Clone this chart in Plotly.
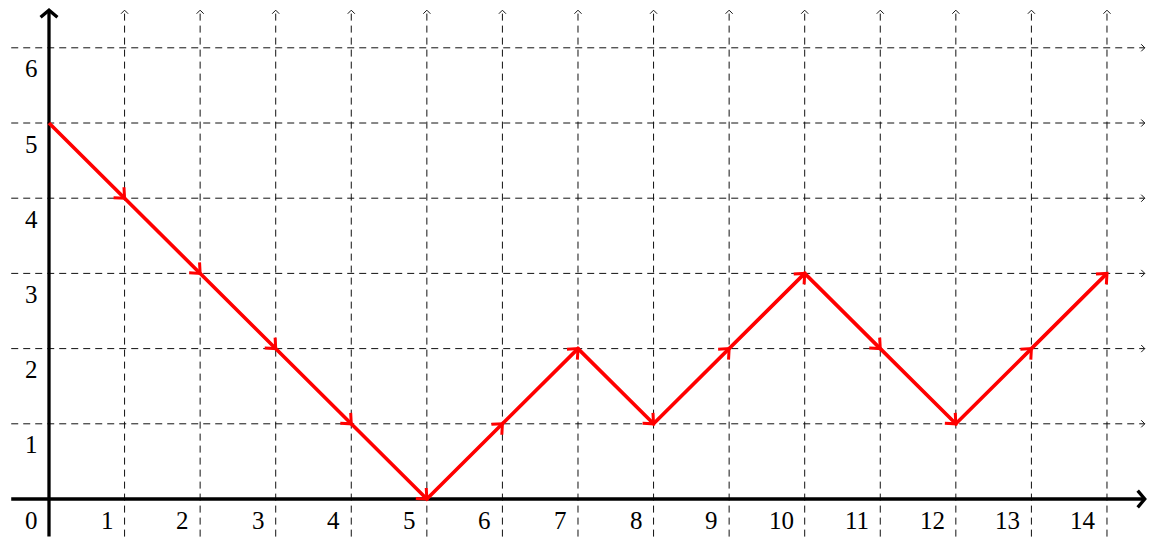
import math
import plotly.graph_objects as go

# ---- data ----
steps = list(range(15))
path_y = [5, 4, 3, 2, 1, 0, 1, 2, 1, 2, 3, 2, 1, 2, 3]
x_tick_vals = list(range(0, 15))
y_tick_vals = list(range(1, 7))
x_grid = list(range(1, 15))
y_grid = list(range(1, 7))

# ---- frame ----
W, H = 1162, 540
UX, UY = 75.57, 75.2
X0 = -41.0 / UX
X1 = X0 + W / UX
Y1 = 491.0 / UY
Y0 = Y1 - H / UY
SX = W / (X1 - X0)
SY = H / (Y1 - Y0)
XMIN, XMAX = -0.5, 14.5
YMIN, YMAX = -0.5, 6.5


def chevron(xa, ya, xb, yb, L, ang):
    """open arrowhead at (xb,yb) pointing from a to b; returns xs, ys"""
    dx, dy = (xb - xa) * SX, (yb - ya) * SY
    n = math.hypot(dx, dy)
    ux, uy = dx / n, dy / n
    xs, ys = [], []
    for s in (1, -1):
        c, si = math.cos(s * ang), math.sin(s * ang)
        rx, ry = ux * c - uy * si, ux * si + uy * c
        xs.append(xb - L * rx / SX)
        ys.append(yb - L * ry / SY)
    return [xs[0], xb, xs[1], None], [ys[0], yb, ys[1], None]


fig = go.Figure()

# grid lines (dashed)
gx, gy = [], []
for gxv in x_grid:
    gx += [gxv, gxv, None]
    gy += [YMIN, YMAX, None]
for gyv in y_grid:
    gx += [XMIN, XMAX, None]
    gy += [gyv, gyv, None]
fig.add_trace(go.Scatter(x=gx, y=gy, mode="lines",
                         line=dict(color="#111", width=1, dash="7px,5px"),
                         hoverinfo="skip", showlegend=False))
# grid arrow tips
cx, cy = [], []
for gxv in x_grid:
    a, b = chevron(gxv, YMIN, gxv, YMAX, 5, math.radians(45))
    cx += a; cy += b
for gyv in y_grid:
    a, b = chevron(XMIN, gyv, XMAX, gyv, 5, math.radians(45))
    cx += a; cy += b
fig.add_trace(go.Scatter(x=cx, y=cy, mode="lines",
                         line=dict(color="#111", width=1),
                         hoverinfo="skip", showlegend=False))

# axes
ax_x = [XMIN, XMAX, None, 0, 0]
ax_y = [0, 0, None, YMIN, YMAX]
fig.add_trace(go.Scatter(x=ax_x, y=ax_y, mode="lines",
                         line=dict(color="black", width=3.3),
                         hoverinfo="skip", showlegend=False))
hx, hy = [], []
a, b = chevron(XMIN, 0, XMAX, 0, 11, math.radians(50))
hx += a; hy += b
a, b = chevron(0, YMIN, 0, YMAX, 11, math.radians(50))
hx += a; hy += b
fig.add_trace(go.Scatter(x=hx, y=hy, mode="lines",
                         line=dict(color="black", width=3.3),
                         hoverinfo="skip", showlegend=False))

# red path
fig.add_trace(go.Scatter(x=steps, y=path_y, mode="lines",
                         line=dict(color="#ff0000", width=3.6),
                         hoverinfo="skip", showlegend=False))
rx, ry = [], []
for i in range(1, len(steps)):
    a, b = chevron(steps[i - 1], path_y[i - 1], steps[i], path_y[i], 11, math.radians(42))
    rx += a; ry += b
fig.add_trace(go.Scatter(x=rx, y=ry, mode="lines",
                         line=dict(color="#ff0000", width=3.0),
                         hoverinfo="skip", showlegend=False))

# tick labels
font = dict(family="Liberation Serif, DejaVu Serif, serif", size=25, color="black")
for v in x_tick_vals:
    fig.add_annotation(x=v, y=0, text=str(v), showarrow=False, xref="x", yref="y",
                       xanchor="right", yanchor="middle", xshift=-9, yshift=-21,
                       font=font)
for v in y_tick_vals:
    fig.add_annotation(x=0, y=v, text=str(v), showarrow=False, xref="x", yref="y",
                       xanchor="right", yanchor="middle", xshift=-9, yshift=-21,
                       font=font)

fig.update_xaxes(range=[X0, X1], visible=False, showgrid=False, zeroline=False)
fig.update_yaxes(range=[Y0, Y1], visible=False, showgrid=False, zeroline=False)
fig.update_layout(width=W, height=H, margin=dict(l=0, r=0, t=0, b=0),
                  plot_bgcolor="white", paper_bgcolor="white")

fig.write_html("out.html")
